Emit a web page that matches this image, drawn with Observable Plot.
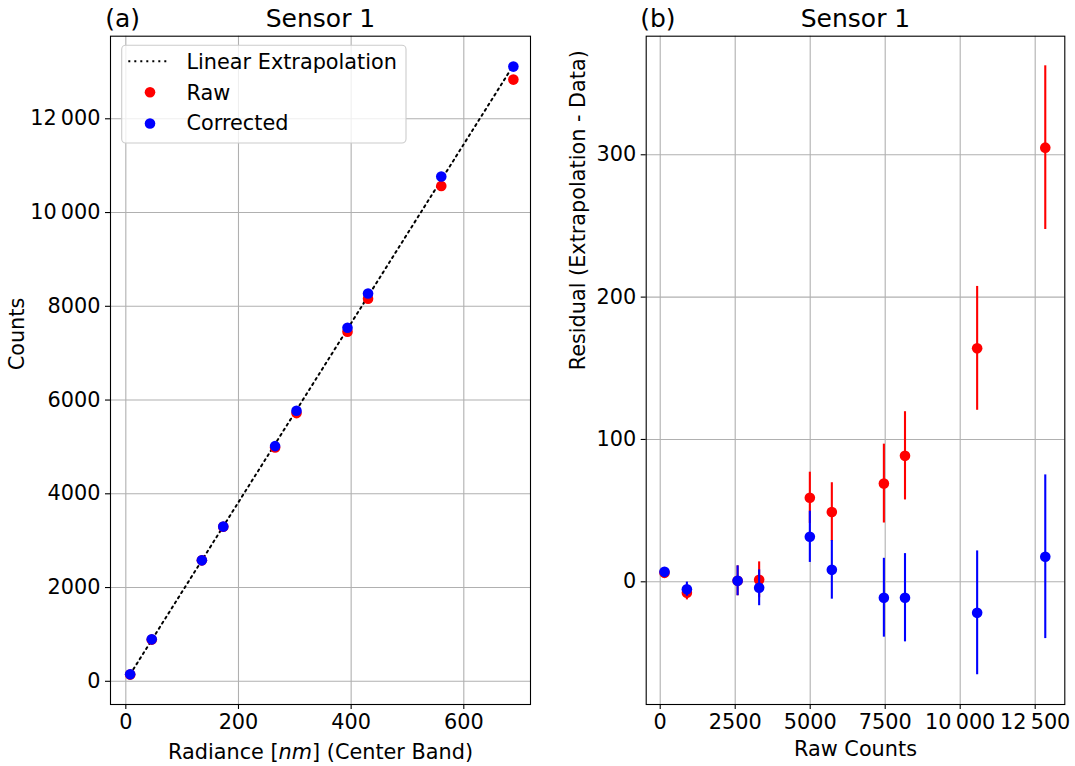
<!DOCTYPE html>
<html>
<head>
<meta charset="utf-8">
<script src="https://cdn.jsdelivr.net/npm/d3@7"></script>
<script src="https://cdn.jsdelivr.net/npm/@observablehq/plot@0.6"></script>
<style>
  body { margin: 0; background: #fff; }
  #fig { position: relative; width: 1075px; height: 766px; overflow: hidden; background: #fff; }
  #a, #b { position: absolute; top: 0; }
  #a { left: 0; }
  #b { left: 545px; }
  svg { display: block; }
</style>
</head>
<body>
<div id="fig"><div id="a"></div><div id="b"></div></div>
<script>
// ---- data ----
const centerBand = [7.7, 46, 135, 173, 265, 303, 393.5, 430, 560, 688];
const rawCounts = [143, 889, 2580, 3298, 4988, 5721, 7456, 8160, 10565, 12836];
const correctedCounts = [150, 895, 2580, 3300, 5017, 5771, 7541, 8272, 10768, 13113];
const extrapBand = [7.7, 688];
const extrapCounts = [149, 13141];
const residualRaw = [6.3, -7.7, 0.7, 1.4, 59, 49, 69, 88.5, 164, 305];
const residualCorrected = [7.0, -5.2, 0.7, -4.2, 31.6, 8.4, -11.2, -11.2, -21.8, 17.6];
const residualErr = [2, 5, 10.5, 12.6, 18, 20.6, 27.7, 31, 43.5, 57.5];
const ticksA_x = [0, 200, 400, 600];
const ticksA_y = [0, 2000, 4000, 6000, 8000, 10000, 12000];
const ticksB_x = [0, 2500, 5000, 7500, 10000, 12500];
const ticksB_y = [0, 100, 200, 300];
const legendLabels = ["Linear Extrapolation", "Raw", "Corrected"];

// ---- styling ----
const RED = "#ff0000", BLUE = "#0000ff", GRID = "#b0b0b0";
const FS = 20.8, TFS = 25;
const DASH = "2,4";
const fmt = d => Math.abs(d) >= 10000 ? d3.format(",")(d).replace(/,/g, "\u2009") : String(d);
const axisOpts = {tickSize: 5, tickPadding: 5, tickFormat: fmt, label: null, strokeWidth: 1.1};

const ptsA = centerBand.map((x, i) => ({x, raw: rawCounts[i], cor: correctedCounts[i]}));
const lineA = extrapBand.map((x, i) => ({x, y: extrapCounts[i]}));

const plotA = Plot.plot({
  width: 545, height: 766,
  marginLeft: 110, marginRight: 15, marginTop: 35.7, marginBottom: 62,
  style: {fontFamily: "DejaVu Sans", fontSize: FS + "px", color: "black", background: "white"},
  x: {domain: [-27.2, 718.4], axis: null},
  y: {domain: [-495, 13762], axis: null},
  marks: [
    Plot.gridX(ticksA_x, {stroke: GRID, strokeOpacity: 1, strokeWidth: 1.1}),
    Plot.gridY(ticksA_y, {stroke: GRID, strokeOpacity: 1, strokeWidth: 1.1}),
    Plot.line(lineA, {x: "x", y: "y", stroke: "black", strokeWidth: 2, strokeDasharray: DASH}),
    Plot.dot(ptsA, {x: "x", y: "raw", r: 5.3, fill: RED, stroke: "none"}),
    Plot.dot(ptsA, {x: "x", y: "cor", r: 5.3, fill: BLUE, stroke: "none"}),
    Plot.axisX({...axisOpts, ticks: ticksA_x}),
    Plot.axisY({...axisOpts, ticks: ticksA_y}),
    Plot.frame({stroke: "black", strokeWidth: 1.1}),
    Plot.text(["Radiance [nm] (Center Band)"], {text: d => d, frameAnchor: "bottom", lineAnchor: "bottom", dy: 54, fontSize: FS}),
    Plot.text(["Counts"], {text: d => d, frameAnchor: "left", lineAnchor: "bottom", rotate: -90, dx: -86.7, fontSize: FS}),
    Plot.text(["(a)"], {text: d => d, frameAnchor: "top-left", textAnchor: "start", lineAnchor: "bottom", dx: -5.3, dy: -9.7, fontSize: TFS}),
    Plot.text(["Sensor 1"], {text: d => d, frameAnchor: "top", lineAnchor: "bottom", dy: -9.7, fontSize: TFS})
  ]
});

// italic "nm" in the x label
plotA.querySelectorAll("text").forEach(t => {
  if (t.textContent === "Radiance [nm] (Center Band)") {
    t.textContent = "";
    const ns = "http://www.w3.org/2000/svg";
    [["Radiance [", null], ["nm", "italic"], ["] (Center Band)", null]].forEach(([s, st]) => {
      const ts = document.createElementNS(ns, "tspan");
      ts.textContent = s;
      if (st) ts.setAttribute("font-style", st);
      t.appendChild(ts);
    });
  }
});

// legend (inside axes, upper left)
{
  const svg = d3.select(plotA);
  const g = svg.append("g").attr("font-family", "DejaVu Sans").attr("font-size", FS).attr("text-anchor", "start");
  g.append("rect").attr("x", 121.7).attr("y", 45.3).attr("width", 284.3).attr("height", 97.7)
    .attr("rx", 4).attr("fill", "white").attr("fill-opacity", 0.8).attr("stroke", "#cccccc").attr("stroke-width", 1.1);
  g.append("line").attr("x1", 128.3).attr("x2", 170).attr("y1", 61.3).attr("y2", 61.3)
    .attr("stroke", "black").attr("stroke-width", 2).attr("stroke-dasharray", DASH);
  g.append("circle").attr("cx", 150).attr("cy", 92.3).attr("r", 5.3).attr("fill", RED);
  g.append("circle").attr("cx", 150).attr("cy", 123.5).attr("r", 5.3).attr("fill", BLUE);
  const ys = [68.7, 99.7, 130];
  legendLabels.forEach((s, i) => {
    g.append("text").attr("x", 186.5).attr("y", ys[i]).attr("text-anchor", "start").attr("fill", "black").text(s);
  });
}
document.getElementById("a").appendChild(plotA);

// ---- panel (b) ----
const ptsB = rawCounts.map((x, i) => ({x, raw: residualRaw[i], cor: residualCorrected[i], e: residualErr[i]}));
const plotB = Plot.plot({
  width: 530, height: 766,
  marginLeft: 100.7, marginRight: 10.7, marginTop: 35.7, marginBottom: 62,
  style: {fontFamily: "DejaVu Sans", fontSize: FS + "px", color: "black", background: "white"},
  x: {domain: [-467, 13487], axis: null},
  y: {domain: [-86.2, 383.3], axis: null},
  marks: [
    Plot.gridX(ticksB_x, {stroke: GRID, strokeOpacity: 1, strokeWidth: 1.1}),
    Plot.gridY(ticksB_y, {stroke: GRID, strokeOpacity: 1, strokeWidth: 1.1}),
    Plot.ruleX(ptsB, {x: "x", y1: d => d.raw - d.e, y2: d => d.raw + d.e, stroke: RED, strokeWidth: 2.1}),
    Plot.dot(ptsB, {x: "x", y: "raw", r: 5.3, fill: RED, stroke: "none"}),
    Plot.ruleX(ptsB, {x: "x", y1: d => d.cor - d.e, y2: d => d.cor + d.e, stroke: BLUE, strokeWidth: 2.1}),
    Plot.dot(ptsB, {x: "x", y: "cor", r: 5.3, fill: BLUE, stroke: "none"}),
    Plot.axisX({...axisOpts, ticks: ticksB_x}),
    Plot.axisY({...axisOpts, ticks: ticksB_y}),
    Plot.frame({stroke: "black", strokeWidth: 1.1}),
    Plot.text(["Raw Counts"], {text: d => d, frameAnchor: "bottom", lineAnchor: "bottom", dy: 51, fontSize: FS}),
    Plot.text(["Residual (Extrapolation - Data)"], {text: d => d, frameAnchor: "left", lineAnchor: "bottom", rotate: -90, dx: -60.7, fontSize: FS}),
    Plot.text(["(b)"], {text: d => d, frameAnchor: "top-left", textAnchor: "start", lineAnchor: "bottom", dx: -6, dy: -9.7, fontSize: TFS}),
    Plot.text(["Sensor 1"], {text: d => d, frameAnchor: "top", lineAnchor: "bottom", dy: -9.7, fontSize: TFS})
  ]
});
document.getElementById("b").appendChild(plotB);
</script>
</body>
</html>
